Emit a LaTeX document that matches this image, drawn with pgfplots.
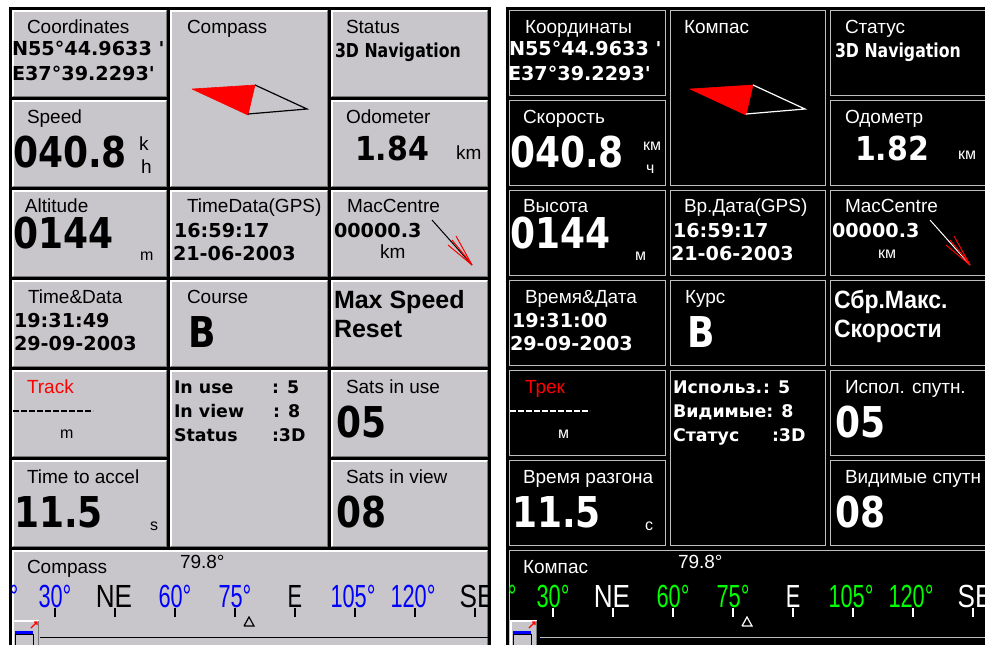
\documentclass[border=0pt]{standalone}
\usepackage{pgfplots}
\pgfplotsset{compat=1.18}
\usepackage{fontspec}
\setmainfont{Liberation Sans}
\newfontfamily\dv{DejaVu Sans}
\definecolor{pgray}{RGB}{200,198,202}
\definecolor{dgray}{RGB}{120,120,120}
\definecolor{lgray}{RGB}{190,190,190}
\definecolor{cblue}{RGB}{0,0,255}
\definecolor{cgreen}{RGB}{0,255,0}
\tikzset{
 base/.style={anchor=base west, inner sep=0pt, outer sep=0pt},
 L/.style={base, font=\fontsize{9.5}{11}\selectfont},
 U/.style={base, font=\fontsize{8}{9}\selectfont},
 V/.style={base, font=\dv\bfseries\fontsize{9.6}{11}\selectfont},
 W/.style={base, font=\dv\bfseries\fontsize{8.7}{10}\selectfont},
 B/.style={base, font=\dv\bfseries\fontsize{18}{20}\selectfont, yscale=1.18},
 M/.style={base, font=\dv\bfseries\fontsize{15}{17}\selectfont, yscale=1.1},
 X/.style={base, font=\bfseries\fontsize{12.5}{14}\selectfont},
 S/.style={anchor=base, inner sep=0pt, font=\fontsize{16}{18}\selectfont, xscale=0.68},
}
\newcommand\lcell[4]{%
 \fill[pgray] (#1+1.5,#2+1.5) rectangle (#3-1.5,#4-1.5);
 \draw[white,line width=1.2pt] (#1+2.7,#4-2) -- (#1+2.7,#2+2.7) -- (#3-2,#2+2.7);
 \draw[dgray,line width=0.5pt] (#3-2,#2+2.7) -- (#3-2,#4-2) -- (#1+2.7,#4-2);}
\newcommand\rcell[4]{%
 \draw[lgray,line width=0.8pt] (#1+2.6,#2+2.6) rectangle (#3-2.6,#4-2.6);}
\begin{document}
\begin{tikzpicture}
\begin{axis}[x=0.5pt, y=0.5pt, xmin=0, xmax=985, ymin=0, ymax=644,
  y dir=reverse, hide axis, scale only axis, clip=false]
\coordinate (SW) at (axis cs:0,644);
\coordinate (NE) at (axis cs:985,0);
\fill[white] (0,0) rectangle (985,644);
% ---------------- left screen
\fill[black] (8.5,6.5) rectangle (490.5,650);
\lcell{10}{8}{168}{98}
\lcell{168}{8}{329}{188}
\lcell{329}{8}{489}{98}
\lcell{10}{98}{168}{188}
\lcell{329}{98}{489}{188}
\lcell{10}{188}{168}{278}
\lcell{168}{188}{329}{278}
\lcell{329}{188}{489}{278}
\lcell{10}{278}{168}{368}
\lcell{168}{278}{329}{368}
\lcell{329}{278}{489}{368}
\lcell{10}{368}{168}{458}
\lcell{168}{368}{329}{548}
\lcell{329}{368}{489}{458}
\lcell{10}{458}{168}{548}
\lcell{329}{458}{489}{548}
\lcell{10}{548}{489}{660}
% ---------------- right screen
\fill[black] (505.5,6.5) rectangle (990,650);
\rcell{507}{8}{668}{98}
\rcell{668}{8}{828}{188}
\rcell{828}{8}{988}{98}
\rcell{507}{98}{668}{188}
\rcell{828}{98}{988}{188}
\rcell{507}{188}{668}{278}
\rcell{668}{188}{828}{278}
\rcell{828}{188}{988}{278}
\rcell{507}{278}{668}{368}
\rcell{668}{278}{828}{368}
\rcell{828}{278}{988}{368}
\rcell{507}{368}{668}{458}
\rcell{668}{368}{828}{548}
\rcell{828}{368}{988}{458}
\rcell{507}{458}{668}{548}
\rcell{828}{458}{988}{548}
\rcell{507}{548}{988}{660}
% ---------------- compass arrows
\addplot[fill=red, draw=red, line width=0.3pt] coordinates {(192,89) (255,85) (248,115) (192,89)};
\addplot[black, line width=0.6pt] coordinates {(255,85) (307,109) (248,114)};
\addplot[fill=red, draw=red, line width=0.3pt] coordinates {(690,89) (753,85) (746,115) (690,89)};
\addplot[white, line width=0.6pt] coordinates {(753,85) (805,109) (746,114)};
% MacCentre arrows
\addplot[black, line width=0.5pt] coordinates {(432,220) (472,265)};
\addplot[red, line width=0.5pt] coordinates {(448,245) (472,265)};
\addplot[red, line width=0.5pt] coordinates {(456,236) (472,265)};
\addplot[red, line width=0.5pt] coordinates {(452,240) (470,262)};
\addplot[white, line width=0.5pt] coordinates {(930,220) (970,265)};
\addplot[red, line width=0.5pt] coordinates {(946,245) (970,265)};
\addplot[red, line width=0.5pt] coordinates {(954,236) (970,265)};
\addplot[red, line width=0.5pt] coordinates {(950,240) (968,262)};
% track dashes
\addplot[black, line width=0.6pt, dash pattern=on 2.9pt off 1.1pt] coordinates {(13,411) (93,411)};
\addplot[white, line width=0.6pt, dash pattern=on 2.9pt off 1.1pt] coordinates {(510,411) (590,411)};
% compass strip ticks
\addplot[only marks, mark=|, mark size=2.3pt, black, mark options={line width=0.9pt}]
  coordinates {(55,612.5) (115,612.5) (175,612.5) (235,612.5) (295,612.5) (355,612.5) (415,612.5) (475,612.5)};
\addplot[only marks, mark=|, mark size=2.3pt, white, mark options={line width=0.9pt}]
  coordinates {(553,612.5) (613,612.5) (673,612.5) (733,612.5) (793,612.5) (853,612.5) (913,612.5) (973,612.5)};
\addplot[black, line width=0.6pt] coordinates {(244,626) (254,626) (249,617) (244,626)};
\addplot[white, line width=0.6pt] coordinates {(742,626) (752,626) (747,617) (742,626)};
% bottom lines and icons
\draw[black, line width=0.8pt] (40,637.5) -- (488,637.5);
\draw[lgray, line width=0.8pt] (540,637.5) -- (985,637.5);
\fill[pgray] (12,620) rectangle (39,646);
\draw[white, line width=0.8pt] (12.8,646) -- (12.8,620.8) -- (38.5,620.8);
\draw[dgray, line width=0.5pt] (38.5,620.8) -- (38.5,646);
\fill[blue] (15,631) rectangle (33,634.5);
\draw[black, line width=0.5pt] (15,634.5) rectangle (33,646);
\draw[red, line width=0.6pt] (31,628) -- (37,622) (34,622) -- (37,622) -- (37,625);
\fill[pgray] (510,620) rectangle (537,646);
\draw[white, line width=0.8pt] (510.8,646) -- (510.8,620.8) -- (536.5,620.8);
\draw[dgray, line width=0.5pt] (536.5,620.8) -- (536.5,646);
\fill[blue] (513,631) rectangle (531,634.5);
\draw[black, line width=0.5pt] (513,634.5) rectangle (531,646);
\draw[red, line width=0.6pt] (529,628) -- (535,622) (532,622) -- (535,622) -- (535,625);
% ---------------- left texts
\node[L] at (27,33) {Coordinates};
\node[V] at (12,55) {N55°44.9633 '};
\node[V] at (12,80) {E37°39.2293'};
\node[L] at (187,33) {Compass};
\node[L] at (346,33) {Status};
\node[V, xscale=0.82] at (335,57) {3D Navigation};
\node[L] at (27,123) {Speed};
\node[B] at (13,167) {040.8};
\node[L] at (139,150) {k};
\node[L] at (141,173) {h};
\node[L] at (346,123) {Odometer};
\node[M] at (355,160) {1.84};
\node[L] at (456,159) {km};
\node[L] at (25,212) {Altitude};
\node[B] at (13,248) {0144};
\node[U] at (140,260) {m};
\node[L] at (187,212) {TimeData(GPS)};
\node[V] at (174,237) {16:59:17};
\node[V] at (173,260) {21-06-2003};
\node[L] at (347,212) {MacCentre};
\node[V] at (334,237) {00000.3};
\node[L] at (380,258) {km};
\node[L] at (28,303) {Time\&Data};
\node[V] at (14,327) {19:31:49};
\node[V] at (14,350) {29-09-2003};
\node[L] at (187,303) {Course};
\node[B] at (188,347) {B};
\node[X] at (334,308) {Max Speed};
\node[X] at (334,337) {Reset};
\node[L, text=red] at (27,393) {Track};
\node[U] at (60,438) {m};
\node[L] at (27,483) {Time to accel};
\node[B] at (14,527) {11.5};
\node[U] at (150,530) {s};
\node[W] at (174,393) {In use};
\node[W] at (272,393) {: 5};
\node[W] at (174,417) {In view};
\node[W] at (273,417) {: 8};
\node[W] at (174,441) {Status};
\node[W] at (272,441) {:3D};
\node[L] at (346,393) {Sats in use};
\node[B] at (336,437) {05};
\node[L] at (346,483) {Sats in view};
\node[B] at (336,527) {08};
\node[L] at (27,573) {Compass};
\node[L] at (180,568) {79.8°};
\begin{scope}
\clip (12,552) rectangle (487.5,640);
\node[S, text=cblue] at (2,607) {15°};
\node[S, text=cblue] at (55,607) {30°};
\node[S, xscale=1.2] at (114,607) {NE};
\node[S, text=cblue] at (175,607) {60°};
\node[S, text=cblue] at (235,607) {75°};
\node[S] at (295,607) {E};
\node[S, text=cblue] at (353,607) {105°};
\node[S, text=cblue] at (413,607) {120°};
\node[S, xscale=1.2] at (477,607) {SE};
\end{scope}
% ---------------- right texts
\begin{scope}[every node/.append style={text=white}]
\node[L] at (525,33) {Координаты};
\node[V] at (509,55) {N55°44.9633 '};
\node[V] at (508,80) {E37°39.2293'};
\node[L] at (684,33) {Компас};
\node[L] at (845,33) {Статус};
\node[V, xscale=0.82] at (835,57) {3D Navigation};
\node[L] at (523,123) {Скорость};
\node[B] at (510,167) {040.8};
\node[U] at (643,150) {км};
\node[U] at (646,173) {ч};
\node[L] at (845,123) {Одометр};
\node[M] at (855,160) {1.82};
\node[U] at (958,159) {км};
\node[L] at (523,212) {Высота};
\node[B] at (510,248) {0144};
\node[U] at (635,260) {м};
\node[L] at (684,212) {Вр.Дата(GPS)};
\node[V] at (673,237) {16:59:17};
\node[V] at (671,260) {21-06-2003};
\node[L] at (845,212) {MacCentre};
\node[V] at (832,237) {00000.3};
\node[U] at (878,258) {км};
\node[L] at (525,303) {Время\&Дата};
\node[V] at (512,327) {19:31:00};
\node[V] at (510,350) {29-09-2003};
\node[L] at (685,303) {Курс};
\node[B] at (687,347) {В};
\node[X, xscale=0.92] at (834,308) {Сбр.Макс.};
\node[X, xscale=0.92] at (834,337) {Скорости};
\node[L, text=red] at (525,393) {Трек};
\node[U] at (558,438) {м};
\node[L] at (523,483) {Время разгона};
\node[B] at (512,527) {11.5};
\node[U] at (645,530) {с};
\node[W] at (673,393) {Использ.};
\node[W] at (763,393) {: 5};
\node[W] at (673,417) {Видимые: 8};
\node[W] at (673,441) {Статус};
\node[W] at (772,441) {:3D};
\node[L] at (845,393) {Испол. спутн.};
\node[B] at (835,437) {05};
\node[L] at (845,483) {Видимые спутн};
\node[B] at (835,527) {08};
\node[L] at (523,573) {Компас};
\node[L] at (678,568) {79.8°};
\end{scope}
\begin{scope}
\clip (509.5,552) rectangle (990,640);
\node[S, text=cgreen] at (500,607) {15°};
\node[S, text=cgreen] at (553,607) {30°};
\node[S, xscale=1.2, text=white] at (612,607) {NE};
\node[S, text=cgreen] at (673,607) {60°};
\node[S, text=cgreen] at (733,607) {75°};
\node[S, text=white] at (793,607) {E};
\node[S, text=cgreen] at (851,607) {105°};
\node[S, text=cgreen] at (911,607) {120°};
\node[S, xscale=1.2, text=white] at (975,607) {SE};
\end{scope}
\end{axis}
\pgfresetboundingbox
\useasboundingbox (SW) rectangle (NE);
\end{tikzpicture}
\end{document}
